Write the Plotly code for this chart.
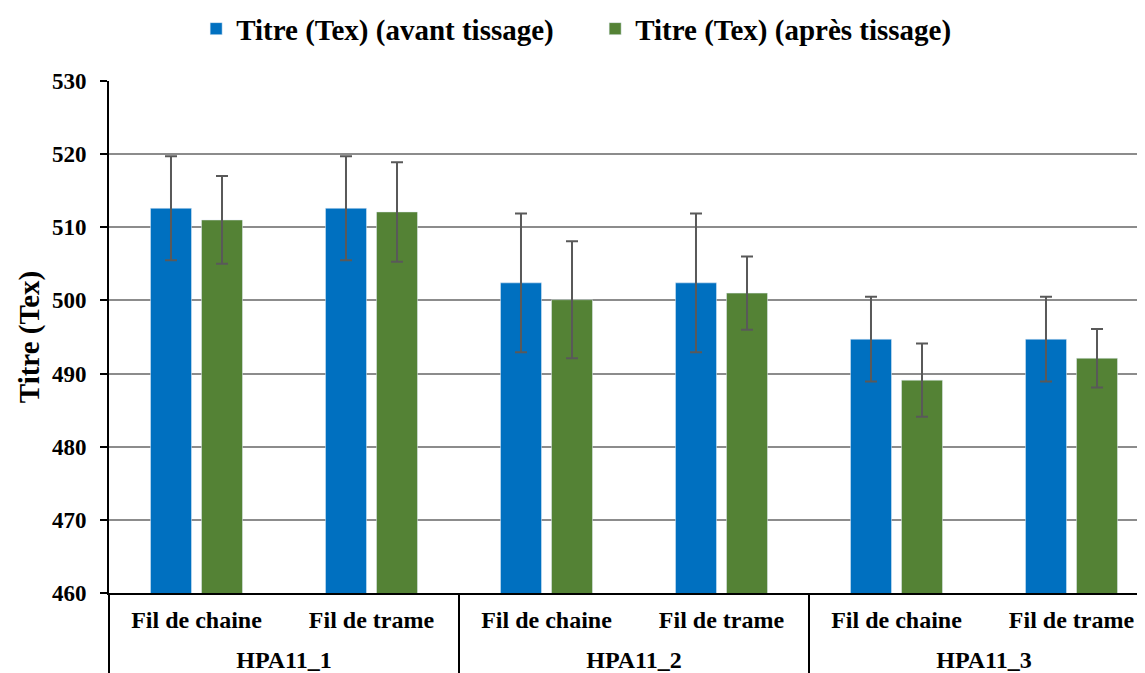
import plotly.graph_objects as go

groups = ["HPA11_1", "HPA11_1", "HPA11_2", "HPA11_2", "HPA11_3", "HPA11_3"]
fils = ["Fil de chaine", "Fil de trame"] * 3
avant = [512.6, 512.6, 502.4, 502.4, 494.7, 494.7]
avant_err = [7.1, 7.1, 9.5, 9.5, 5.8, 5.8]
apres = [511.0, 512.1, 500.1, 501.0, 489.1, 492.1]
apres_err = [6.0, 6.8, 8.0, 5.0, 5.0, 4.0]

font_family = "'Liberation Serif', 'Times New Roman', Times, serif"

idx = list(range(len(fils)))
# group boundaries and centres derived from the group list
bounds = [i - 0.5 for i in range(len(groups) + 1)
          if i == 0 or i == len(groups) or groups[i] != groups[i - 1]]
uniq = []
for g in groups:
    if g not in uniq:
        uniq.append(g)
centers = [sum(i for i, g in enumerate(groups) if g == u) / groups.count(u) for u in uniq]

fig = go.Figure()
fig.add_trace(go.Bar(
    x=idx, y=avant, name="<b>Titre (Tex) (avant tissage)</b>",
    marker=dict(color="#0070C0"),
    error_y=dict(type="data", array=avant_err, color="#595959", thickness=2, width=6),
))
fig.add_trace(go.Bar(
    x=idx, y=apres, name="<b>Titre (Tex) (après tissage)</b>",
    marker=dict(color="#548235"),
    error_y=dict(type="data", array=apres_err, color="#595959", thickness=2, width=6),
))
fig.add_trace(go.Scatter(x=[], y=[], xaxis="x2", yaxis="y", showlegend=False,
                         hoverinfo="skip"))

fig.update_layout(
    width=1151, height=665,
    margin=dict(l=101, r=0, t=73, b=80, autoexpand=False),
    plot_bgcolor="white", paper_bgcolor="white",
    font=dict(family=font_family, size=24, color="black"),
    barmode="group", bargap=0.417, bargroupgap=0.196,
    legend=dict(orientation="h", x=0.083, xanchor="left", y=1.102, yanchor="middle",
                font=dict(size=29, family=font_family), itemwidth=30, entrywidth=354),
    showlegend=True,
    xaxis=dict(
        range=[-0.5, len(fils) - 0.5], tickmode="array", tickvals=idx,
        ticktext=["<b>%s</b>" % f for f in fils], ticks="", showgrid=False,
        showline=True, linecolor="black", linewidth=2, zeroline=False,
        tickfont=dict(size=24, family=font_family), automargin=False,
        ticklabelstandoff=4,
        minor=dict(tickmode="array", tickvals=bounds, ticks="outside", ticklen=82,
                   tickwidth=2, tickcolor="black", showgrid=False),
    ),
    xaxis2=dict(
        overlaying="x", matches="x", side="bottom", anchor="y",
        range=[-0.5, len(fils) - 0.5], tickmode="array", tickvals=centers,
        ticktext=["<b>%s</b>" % u for u in uniq], ticks="", showgrid=False,
        showline=False, zeroline=False, tickfont=dict(size=24, family=font_family),
        automargin=False, ticklabelstandoff=50,
    ),
    yaxis=dict(
        range=[460, 530], dtick=10, showgrid=True, gridcolor="#8c8c8c", gridwidth=2,
        showline=True, linecolor="black", linewidth=2, ticks="outside", ticklen=7,
        tickcolor="black", tickwidth=2, tickfont=dict(size=23, family=font_family),
        title=dict(text="<b>Titre (Tex)</b>", font=dict(size=29, family=font_family), standoff=4),
        tickprefix="<b>", ticksuffix="</b>", zeroline=False, automargin=False,
        ticklabelstandoff=9,
    ),
)

fig.write_html("out.html")
